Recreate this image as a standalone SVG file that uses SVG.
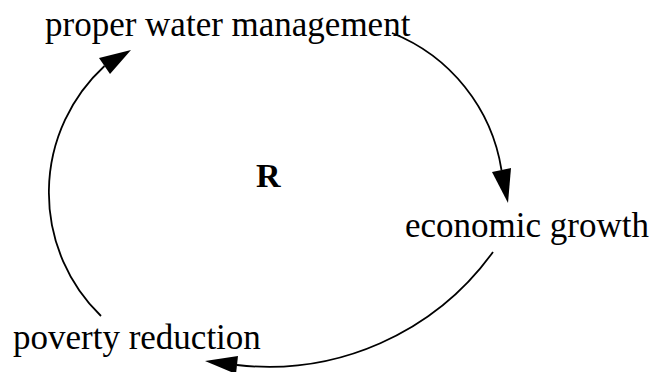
<svg xmlns="http://www.w3.org/2000/svg" width="653" height="372" viewBox="0 0 653 372">
<style>
.lbl{font-family:"Liberation Serif","Times New Roman",serif;font-size:35px;fill:#000}
.r{font-family:"Liberation Serif","Times New Roman",serif;font-size:34px;font-weight:bold;fill:#000}
.arc{fill:none;stroke:#000;stroke-width:1.8}
.head{fill:#000;stroke:none}
</style>
<rect width="653" height="372" fill="#fff"/>
<g id="connectors">
<path class="arc" d="M392,33 A176.9,176.9 0 0 1 501.5,170"/>
<polygon class="head" points="508,203 492,172 511,168"/>
<path class="arc" d="M493,252 A277,277 0 0 1 237,365"/>
<polygon class="head" points="205,361 238,356 236,374"/>
<path class="arc" d="M101,316 A172,172 0 0 1 104.5,66"/>
<polygon class="head" points="131,50 99,58 110,74"/>
</g>
<g id="node-proper-water-management"><text class="lbl" x="45" y="36">proper water management</text></g>
<g id="node-economic-growth"><text class="lbl" x="405" y="237">economic growth</text></g>
<g id="node-poverty-reduction"><text class="lbl" x="13" y="349">poverty reduction</text></g>
<g id="loop-label"><text class="r" x="256" y="187">R</text></g>
</svg>
